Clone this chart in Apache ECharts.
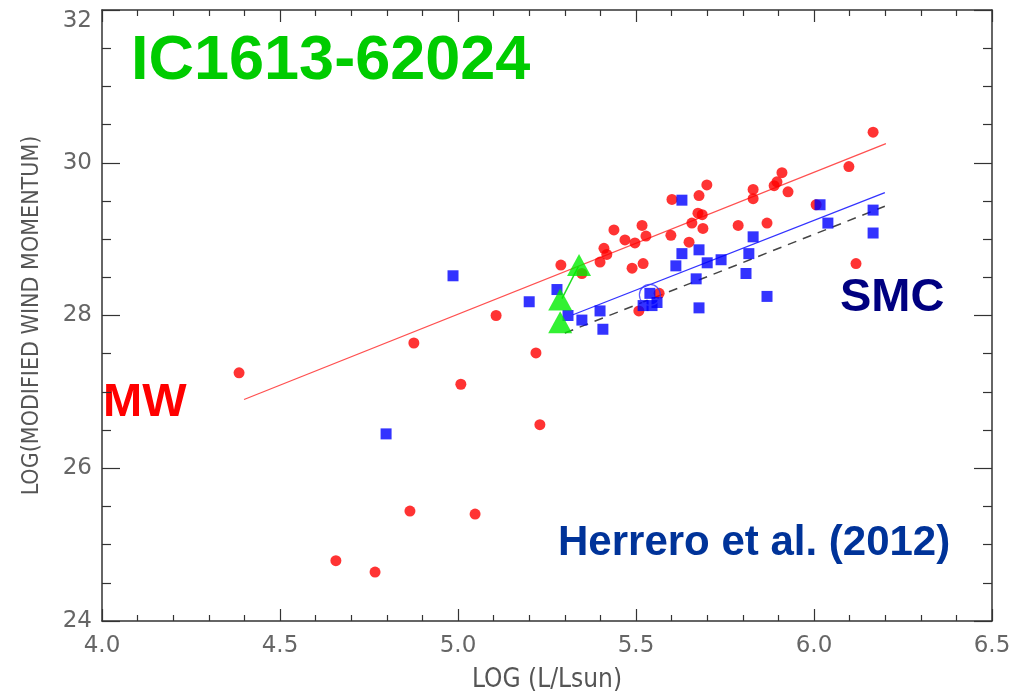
<!DOCTYPE html>
<html>
<head>
<meta charset="utf-8">
<script src="https://cdn.jsdelivr.net/npm/echarts@6/dist/echarts.min.js"></script>
<style>html,body{margin:0;padding:0;background:#fff}#c{width:1025px;height:698px}</style>
</head>
<body>
<div id="c"></div>
<script>
// Milky Way stars (red circles): [logL, log modified wind momentum]
const mwStars = [
  [4.385,27.25],[4.657,24.79],[4.767,24.64],[4.865,25.44],[5.048,25.40],
  [4.876,27.64],[5.008,27.10],[5.107,28.00],[5.219,27.51],[5.230,26.57],
  [5.289,28.66],[5.348,28.55],[5.399,28.70],[5.410,28.88],[5.418,28.80],
  [5.438,29.12],[5.469,28.99],[5.489,28.62],[5.497,28.95],[5.517,29.18],
  [5.520,28.68],[5.528,29.04],[5.508,28.06],[5.565,28.29],[5.601,29.52],
  [5.598,29.05],[5.649,28.96],[5.657,29.21],[5.677,29.57],[5.674,29.34],
  [5.686,29.32],[5.699,29.71],[5.688,29.14],[5.787,29.18],[5.829,29.65],
  [5.829,29.53],[5.868,29.21],[5.888,29.70],[5.896,29.75],[5.910,29.87],
  [5.927,29.62],[6.006,29.45],[6.098,29.95],[6.118,28.68],[6.166,30.40]
];
// SMC stars (blue squares)
const smcStars = [
  [4.798,26.45],[4.986,28.52],[5.200,28.18],[5.278,28.34],[5.309,28.00],
  [5.348,27.94],[5.399,28.06],[5.407,27.82],[5.520,28.13],[5.539,28.29],
  [5.545,28.13],[5.559,28.17],[5.612,28.65],[5.629,28.81],[5.629,29.51],
  [5.669,28.48],[5.677,28.86],[5.677,28.10],[5.700,28.69],[5.739,28.73],
  [5.809,28.55],[5.817,28.81],[5.829,29.03],[5.868,28.25],[6.017,29.45],
  [6.039,29.21],[6.166,29.38],[6.166,29.08]
];
// IC1613-62024 (green triangles)
const icStars = [[5.340,28.66],[5.287,28.21],[5.287,27.91]];
const icLink = [[5.292,28.22],[5.338,28.64]];
// highlighted SMC star (open circle)
const openStar = [[5.539,28.27]];
// regression lines
const mwFit = [[4.399,26.90],[6.202,30.25]];
const smcFit = [[5.323,28.01],[6.199,29.61]];
const refFit = [[5.300,27.77],[6.199,29.43]];
// axis ranges / ticks
const xRange = [4.0, 6.5], xStep = 0.5;
const yRange = [24, 32], yStep = 2;

const labelFont = {color:'#666', fontFamily:'DejaVu Sans', fontSize:23};
const axisLineStyle = {color:'#333', width:1.5};

const mkX = (pos, show) => ({
  type:'value', position:pos, min:xRange[0], max:xRange[1], interval:xStep,
  axisLine:{show:true, onZero:false, lineStyle:axisLineStyle},
  axisTick:{show:true, inside:true, length:12, lineStyle:{color:'#333', width:1.2}},
  minorTick:{show:true, splitNumber:5, length:6, lineStyle:{color:'#333', width:1.2}},
  splitLine:{show:false},
  axisLabel:{show:show, margin:14, ...labelFont, formatter:v=>v.toFixed(1)},
  name: show ? 'LOG (L/Lsun)' : '', nameLocation:'middle', nameGap:46,
  nameTextStyle:{color:'#555', fontFamily:'DejaVu Sans Condensed, DejaVu Sans', fontSize:26}
});
const mkY = (pos, show) => ({
  type:'value', position:pos, min:yRange[0], max:yRange[1], interval:yStep,
  axisLine:{show:true, onZero:false, lineStyle:axisLineStyle},
  axisTick:{show:true, inside:true, length:18, lineStyle:{color:'#333', width:1.2}},
  minorTick:{show:true, splitNumber:4, length:9, lineStyle:{color:'#333', width:1.2}},
  splitLine:{show:false},
  axisLabel:{show:show, margin:10, ...labelFont, verticalAlignMaxLabel:'top'},
  name: show ? 'LOG(MODIFIED WIND MOMENTUM)' : '', nameLocation:'middle', nameGap:58,
  nameTextStyle:{color:'#555', fontFamily:'DejaVu Sans Condensed, DejaVu Sans', fontSize:23}
});

const chart = echarts.init(document.getElementById('c'));
chart.setOption({
  animation:false,
  backgroundColor:'#fff',
  grid:{left:102, right:33, top:10, bottom:72},
  xAxis:[mkX('bottom', true), mkX('top', false)],
  yAxis:[mkY('left', true), mkY('right', false)],
  series:[
    {type:'line', data:mwFit, symbol:'none', lineStyle:{color:'#ff5050', width:1.3}, z:2},
    {type:'line', data:smcFit, symbol:'none', lineStyle:{color:'#3333ff', width:1.3}, z:2},
    {type:'line', data:refFit, symbol:'none', lineStyle:{color:'#444', width:1.5, type:[9,7]}, z:2},
    {type:'line', data:icLink, symbol:'none', lineStyle:{color:'#22dd22', width:1.5}, z:2},
    {type:'scatter', data:mwStars, symbol:'circle', symbolSize:11, itemStyle:{color:'#ff0000'}, z:3},
    {type:'scatter', data:smcStars, symbol:'rect', symbolSize:11, itemStyle:{color:'#0000ff'}, z:4},
    {type:'scatter', data:openStar, symbol:'circle', symbolSize:21, itemStyle:{color:'rgba(0,0,0,0)', borderColor:'#3333ff', borderWidth:1.2}, z:5},
    {type:'scatter', data:icStars, symbol:'triangle', symbolSize:[24,22], itemStyle:{color:'#00ee00'}, z:6}
  ],
  graphic:[
    {type:'text', left:131, top:30, style:{text:'IC1613-62024', fill:'#00cc00', font:'bold 63px "Liberation Sans", Arial, sans-serif'}},
    {type:'text', left:103, top:380, style:{text:'MW', fill:'#ff0000', font:'bold 47px "Liberation Sans", Arial, sans-serif'}},
    {type:'text', left:840, top:275, style:{text:'SMC', fill:'#000080', font:'bold 47px "Liberation Sans", Arial, sans-serif'}},
    {type:'text', left:558, top:522, style:{text:'Herrero et al. (2012)', fill:'#003399', font:'bold 42px "Liberation Sans", Arial, sans-serif'}}
  ]
});
</script>
</body>
</html>
